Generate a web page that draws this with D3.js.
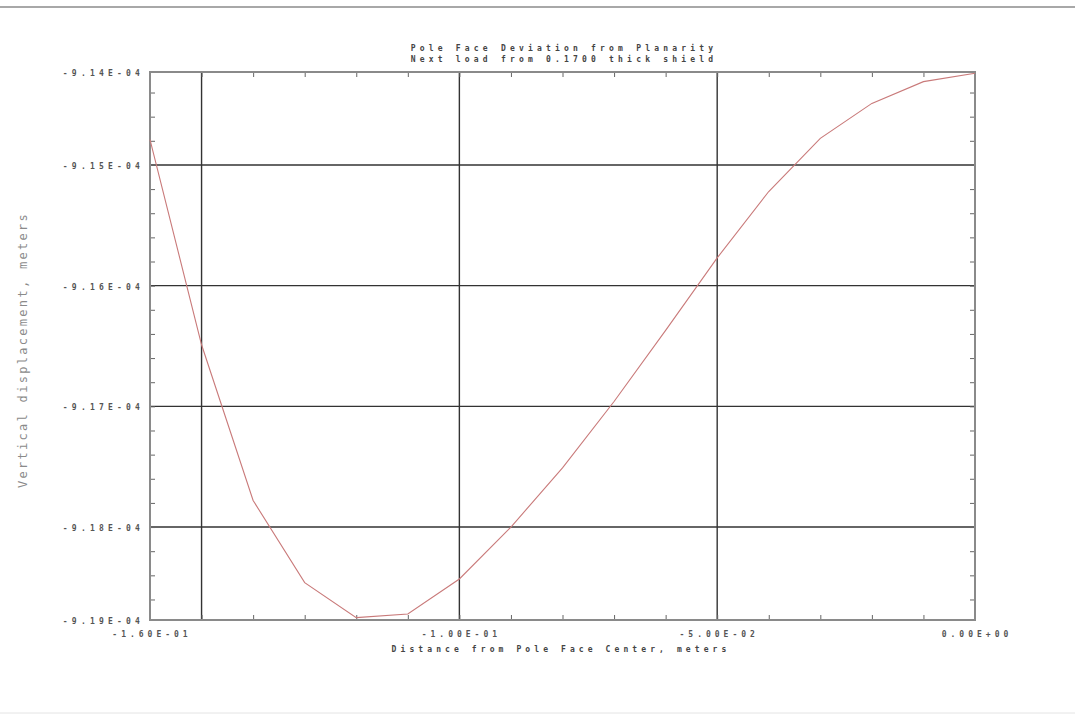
<!DOCTYPE html>
<html>
<head>
<meta charset="utf-8">
<script src="https://cdn.jsdelivr.net/npm/d3@7"></script>
<style>
    body { margin: 0; background: #fff; }
    svg text { font-family: "DejaVu Sans Mono", monospace; }
</style>
</head>
<body>
<div id="chart"></div>
<script>
/*
 * Daten: Abstand von der Polflaechenmitte (m) und vertikale Verschiebung (m)
 */
var distance = [-0.16, -0.15, -0.14, -0.13, -0.12, -0.11, -0.10, -0.09, -0.08,
                -0.07, -0.06, -0.05, -0.04, -0.03, -0.02, -0.01, 0.00];
var displacement = [-9.1479e-4, -9.1649e-4, -9.1778e-4, -9.1846e-4, -9.1875e-4, -9.1872e-4,
                    -9.1843e-4, -9.1800e-4, -9.1751e-4, -9.1696e-4, -9.1637e-4, -9.1577e-4,
                    -9.1522e-4, -9.1478e-4, -9.1449e-4, -9.1431e-4, -9.1424e-4];

var xLabelTicks = [-0.16, -0.10, -0.05, 0.00];
var xGridTicks = [-0.15, -0.10, -0.05];
var xMinorTicks = [-0.15, -0.14, -0.13, -0.12, -0.11, -0.10, -0.09, -0.08,
                   -0.07, -0.06, -0.05, -0.04, -0.03, -0.02, -0.01];

var yLabelTicks = [-9.1423e-4, -9.15e-4, -9.16e-4, -9.17e-4, -9.18e-4, -9.1877e-4];
var yGridTicks = [-9.15e-4, -9.16e-4, -9.17e-4, -9.18e-4];
var yMinorTicks = [-9.144e-4, -9.146e-4, -9.148e-4, -9.150e-4, -9.152e-4, -9.154e-4, -9.156e-4,
                   -9.158e-4, -9.160e-4, -9.162e-4, -9.164e-4, -9.166e-4, -9.168e-4, -9.170e-4,
                   -9.172e-4, -9.174e-4, -9.176e-4, -9.178e-4, -9.180e-4, -9.182e-4, -9.184e-4,
                   -9.186e-4];

var titleLines = ["Pole Face Deviation from Planarity", "Next load from 0.1700 thick shield"];
var xTitle = "Distance from Pole Face Center, meters";
var yTitle = "Vertical displacement, meters";

var width = 1075, height = 722;
var margin = {top: 72, right: 100, bottom: 102, left: 150};

/*
 * Formatiert eine Zahl wie -9.14E-04
 */
function sciFormat(v) {
    var s = v.toExponential(2).toUpperCase();
    var parts = s.split("E");
    var exp = parseInt(parts[1], 10);
    var sign = exp < 0 ? "-" : "+";
    var digits = Math.abs(exp) < 10 ? "0" + Math.abs(exp) : "" + Math.abs(exp);
    return parts[0] + "E" + sign + digits;
}

var svg = d3.select("#chart").append("svg")
        .attr("width", width)
        .attr("height", height);

// graue Linien oben und unten
svg.append("line").attr("x1", 0).attr("x2", width).attr("y1", 7).attr("y2", 7)
        .attr("stroke", "#a8a8a8").attr("stroke-width", 2);
svg.append("line").attr("x1", 0).attr("x2", width).attr("y1", 713).attr("y2", 713)
        .attr("stroke", "#e4e4e4").attr("stroke-width", 1);

var x = d3.scaleLinear()
        .domain([-0.16, 0])
        .range([margin.left, width - margin.right]);
var y = d3.scaleLinear()
        .domain([-9.1877e-4, -9.1423e-4])
        .range([height - margin.bottom, margin.top]);

var x0 = x.range()[0], x1 = x.range()[1];
var y0 = y.range()[1], y1 = y.range()[0];

// Gitterlinien
svg.append("g").selectAll("line")
        .data(xGridTicks)
        .enter().append("line")
        .attr("x1", function (d) { return x(d); })
        .attr("x2", function (d) { return x(d); })
        .attr("y1", y0).attr("y2", y1)
        .attr("stroke", "#333").attr("stroke-width", 1.4);
svg.append("g").selectAll("line")
        .data(yGridTicks)
        .enter().append("line")
        .attr("y1", function (d) { return y(d); })
        .attr("y2", function (d) { return y(d); })
        .attr("x1", x0).attr("x2", x1)
        .attr("stroke", "#333").attr("stroke-width", 1.4);

// kleine Striche an allen vier Seiten (nach innen)
var tickLen = 5;
var axBottom = d3.axisBottom(x).tickValues(xMinorTicks).tickSize(-tickLen).tickFormat("");
var axTop = d3.axisTop(x).tickValues(xMinorTicks).tickSize(-tickLen).tickFormat("");
var axLeft = d3.axisLeft(y).tickValues(yMinorTicks).tickSize(-tickLen).tickFormat("");
var axRight = d3.axisRight(y).tickValues(yMinorTicks).tickSize(-tickLen).tickFormat("");

svg.append("g").attr("transform", "translate(0," + y1 + ")").call(axBottom);
svg.append("g").attr("transform", "translate(0," + y0 + ")").call(axTop);
svg.append("g").attr("transform", "translate(" + x0 + ",0)").call(axLeft);
svg.append("g").attr("transform", "translate(" + x1 + ",0)").call(axRight);

svg.selectAll(".domain").remove();
svg.selectAll(".tick line").attr("stroke", "#666").attr("stroke-width", 1);

// Rahmen
svg.append("rect")
        .attr("x", x0).attr("y", y0)
        .attr("width", x1 - x0).attr("height", y1 - y0)
        .attr("fill", "none")
        .attr("stroke", "#8a8a8a").attr("stroke-width", 2);

// Kurve
var line = d3.line()
        .x(function (d, i) { return x(distance[i]); })
        .y(function (d) { return y(d); });
svg.append("path")
        .datum(displacement)
        .attr("d", line)
        .attr("fill", "none")
        .attr("stroke", "#c97a7a")
        .attr("stroke-width", 1.1);

// Beschriftungen der Achsen
svg.append("g").selectAll("text")
        .data(yLabelTicks)
        .enter().append("text")
        .attr("x", x0 - 6)
        .attr("y", function (d) { return y(d) + 4; })
        .attr("text-anchor", "end")
        .attr("font-size", 8)
        .attr("font-weight", "bold")
        .attr("letter-spacing", 4.2)
        .attr("fill", "#555")
        .text(function (d) { return sciFormat(d); });

svg.append("g").selectAll("text")
        .data(xLabelTicks)
        .enter().append("text")
        .attr("x", function (d) { return x(d) + 2; })
        .attr("y", y1 + 17)
        .attr("text-anchor", "middle")
        .attr("font-size", 8)
        .attr("font-weight", "bold")
        .attr("letter-spacing", 4)
        .attr("fill", "#555")
        .text(function (d) { return sciFormat(d); });

// Titel
svg.append("g").selectAll("text")
        .data(titleLines)
        .enter().append("text")
        .attr("x", 564)
        .attr("y", function (d, i) { return 51 + i * 11; })
        .attr("text-anchor", "middle")
        .attr("font-size", 8)
        .attr("font-weight", "bold")
        .attr("letter-spacing", 4.2)
        .attr("fill", "#444")
        .text(function (d) { return d; });

svg.append("text")
        .attr("x", 561)
        .attr("y", y1 + 32)
        .attr("text-anchor", "middle")
        .attr("font-size", 8)
        .attr("font-weight", "bold")
        .attr("letter-spacing", 4.1)
        .attr("fill", "#444")
        .text(xTitle);

svg.append("text")
        .attr("transform", "translate(27," + 350 + ") rotate(-90)")
        .attr("text-anchor", "middle")
        .attr("font-size", 12)
        .attr("letter-spacing", 2.3)
        .attr("fill", "#8a8a8a")
        .text(yTitle);
</script>
</body>
</html>
